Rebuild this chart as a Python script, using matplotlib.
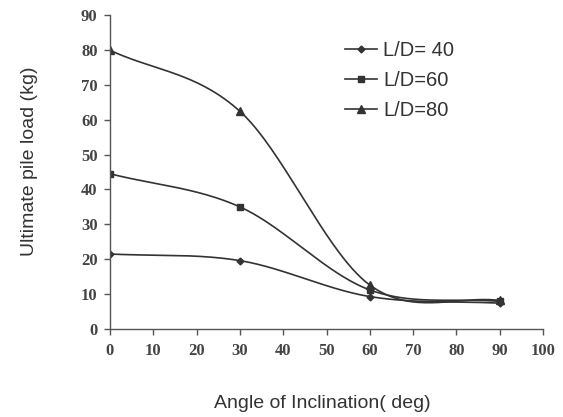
import numpy as np
import matplotlib
matplotlib.use('Agg')
import matplotlib.pyplot as plt

# 数据
angle = [0, 30, 60, 90]
load_ld40 = [21.5, 19.6, 9.3, 7.4]
load_ld60 = [44.5, 35.0, 11.2, 7.9]
load_ld80 = [79.9, 62.4, 12.6, 8.2]
series_labels = ['L/D= 40', 'L/D=60', 'L/D=80']

x_ticks = [0, 10, 20, 30, 40, 50, 60, 70, 80, 90, 100]
y_ticks = [0, 10, 20, 30, 40, 50, 60, 70, 80, 90]


def excel_smooth(xs, ys, n=60):
    """Excel 风格的平滑曲线（Bezier，内部控制点取相邻点差的 1/6，端点取 1/3）"""
    xs = np.asarray(xs, float)
    ys = np.asarray(ys, float)
    px, py = [], []
    m = len(xs)
    for i in range(m - 1):
        if i == 0:
            c1x = xs[i] + (xs[i + 1] - xs[i]) / 3
            c1y = ys[i] + (ys[i + 1] - ys[i]) / 3
        else:
            c1x = xs[i] + (xs[i + 1] - xs[i - 1]) / 6
            c1y = ys[i] + (ys[i + 1] - ys[i - 1]) / 6
        if i + 2 > m - 1:
            c2x = xs[i + 1] - (xs[i + 1] - xs[i]) / 3
            c2y = ys[i + 1] - (ys[i + 1] - ys[i]) / 3
        else:
            c2x = xs[i + 1] - (xs[i + 2] - xs[i]) / 6
            c2y = ys[i + 1] - (ys[i + 2] - ys[i]) / 6
        t = np.linspace(0, 1, n)
        a, b, c, d = (1 - t) ** 3, 3 * (1 - t) ** 2 * t, 3 * (1 - t) * t ** 2, t ** 3
        px.extend(a * xs[i] + b * c1x + c * c2x + d * xs[i + 1])
        py.extend(a * ys[i] + b * c1y + c * c2y + d * ys[i + 1])
    return np.array(px), np.array(py)


fig = plt.figure(figsize=(5.63, 4.17), dpi=100)
ax = fig.add_axes([110 / 563, 1 - 329 / 417, 433 / 563, 314 / 417])

line_color = '#333333'
styles = [('D', 3.5), ('s', 5), ('^', 6)]
for ys, lab, (mk, ms) in zip([load_ld40, load_ld60, load_ld80], series_labels, styles):
    sx, sy = excel_smooth(angle, ys)
    ax.plot(sx, sy, color=line_color, linewidth=1.2)
    ax.plot(angle, ys, linestyle='none', marker=mk, markersize=ms, color=line_color)
    # 图例句柄
    ax.plot([], [], color=line_color, linewidth=1.2, marker=mk, markersize=ms, label=lab)

ax.set_xlim(0, 100)
ax.set_ylim(0, 90)
ax.set_xticks(x_ticks)
ax.set_yticks(y_ticks)
for sp in ['top', 'right']:
    ax.spines[sp].set_visible(False)
for sp in ['left', 'bottom']:
    ax.spines[sp].set_color('#555555')
    ax.spines[sp].set_linewidth(1.0)
ax.tick_params(direction='out', length=4, width=1, color='#555555')
ax.tick_params(axis='y', pad=5)
ax.tick_params(axis='x', pad=6)
for lbl in ax.get_xticklabels() + ax.get_yticklabels():
    lbl.set_fontfamily('Liberation Serif')
    lbl.set_fontweight('bold')
    lbl.set_fontsize(12)
    lbl.set_color('#444444')

fig.text(30 / 563, 1 - 161 / 417, 'Ultimate pile load (kg)', rotation=90,
         ha='center', va='center', fontsize=14, family='Liberation Sans', color='#333333')
fig.text(322 / 563, 1 - 403 / 417, 'Angle of Inclination( deg)',
         ha='center', va='center', fontsize=14, family='Liberation Sans', color='#333333')

leg = ax.legend(loc='upper left', bbox_to_anchor=(345 / 563, 1 - 41 / 417),
                bbox_transform=fig.transFigure, frameon=False, borderpad=0,
                borderaxespad=0, handlelength=1.6, handletextpad=0.3,
                labelspacing=0.55, prop={'family': 'Liberation Sans', 'size': 14.5})
for t in leg.get_texts():
    t.set_color('#333333')

fig.savefig('out.png', dpi=100)
